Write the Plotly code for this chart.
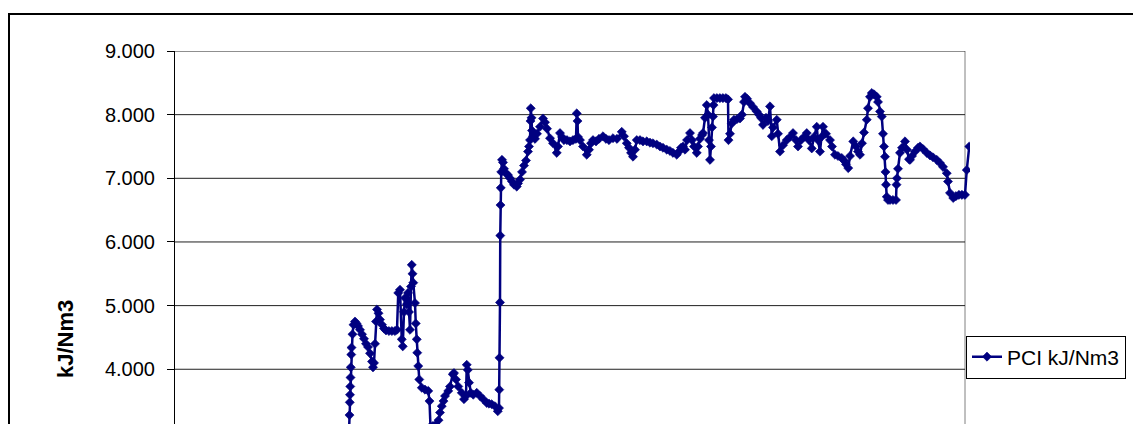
import plotly.graph_objects as go

# sample number (x) and PCI value in kJ/Nm3
muestra = [694, 698, 699, 700, 701, 702, 703, 705, 706, 710, 714, 720, 726, 732, 740, 748, 756, 764, 772, 780,
           788, 792, 796, 800, 804, 808, 814, 820, 828, 836, 844, 856, 868, 880, 888, 893, 900, 907, 911, 916,
           920, 927, 932, 936, 940, 944, 947, 950, 953, 960, 963, 967, 969, 973, 977, 987, 1000, 1013, 1018, 1022,
           1032, 1044, 1054, 1060, 1067, 1074, 1080, 1093, 1100, 1111, 1116, 1124, 1133, 1147, 1156, 1164, 1167, 1171, 1176, 1183,
           1193, 1207, 1220, 1233, 1247, 1256, 1267, 1280, 1291, 1296, 1297, 1298, 1300, 1301, 1302, 1303, 1305, 1308, 1312, 1316,
           1324, 1332, 1340, 1348, 1356, 1367, 1372, 1380, 1388, 1396, 1404, 1412, 1416, 1420, 1422, 1423, 1426, 1428, 1432, 1440,
           1448, 1460, 1472, 1480, 1488, 1500, 1512, 1527, 1532, 1540, 1548, 1556, 1568, 1580, 1592, 1604, 1607, 1610, 1612, 1620,
           1632, 1647, 1656, 1664, 1672, 1684, 1696, 1712, 1724, 1736, 1752, 1768, 1787, 1796, 1807, 1816, 1824, 1832, 1840, 1847,
           1860, 1872, 1887, 1900, 1912, 1927, 1940, 1952, 1967, 1980, 1992, 2007, 2016, 2024, 2032, 2040, 2048, 2060, 2068, 2076,
           2087, 2092, 2100, 2108, 2112, 2120, 2127, 2132, 2136, 2140, 2144, 2148, 2152, 2154, 2156, 2168, 2180, 2192, 2204, 2212,
           2214, 2220, 2227, 2236, 2248, 2260, 2268, 2276, 2280, 2288, 2300, 2312, 2327, 2336, 2344, 2352, 2364, 2372, 2380, 2387,
           2392, 2407, 2412, 2420, 2432, 2447, 2460, 2472, 2484, 2492, 2504, 2516, 2527, 2536, 2547, 2556, 2567, 2572, 2580, 2586,
           2592, 2604, 2620, 2628, 2640, 2652, 2667, 2676, 2684, 2693, 2700, 2713, 2724, 2732, 2740, 2748, 2756, 2767, 2772, 2780,
           2787, 2796, 2807, 2812, 2820, 2827, 2832, 2836, 2840, 2842, 2844, 2847, 2852, 2860, 2872, 2884, 2886, 2888, 2892, 2900,
           2908, 2920, 2928, 2936, 2940, 2948, 2960, 2972, 2980, 2992, 3007, 3020, 3032, 3047, 3060, 3072, 3087, 3092, 3100, 3113,
           3124, 3136, 3148, 3160, 3167, 3177]

pci = [2800, 3280, 3480, 3600, 3730, 3870, 4030, 4230, 4340, 4550, 4700, 4750, 4720, 4680, 4620, 4550, 4480, 4400, 4350, 4250,
       4120, 4030, 4100, 4400, 4750, 4940, 4880, 4780, 4700, 4640, 4610, 4600, 4600, 4600, 4620, 5200, 5250, 4470, 4360, 4900,
       5120, 5020, 5200, 4900, 4620, 5300, 5640, 5500, 5360, 5040, 4720, 4470, 4260, 4050, 3840, 3710, 3680, 3660, 3500, 3100,
       3110, 3130, 3200, 3320, 3420, 3500, 3580, 3660, 3730, 3920, 3940, 3840, 3730, 3630, 3530, 3580, 4070, 3990, 3790, 3630,
       3600, 3630, 3580, 3530, 3470, 3460, 3450, 3420, 3340, 3390, 3680, 4180, 5050, 6100, 6580, 6850, 7100, 7290, 7250, 7150,
       7080, 7050, 7000, 6950, 6900, 6870, 6920, 6980, 7100, 7200, 7280, 7420, 7500, 7600, 7900, 8100, 7950, 7750, 7660, 7620,
       7700, 7810, 7940, 7880, 7780, 7630, 7550, 7400, 7500, 7710, 7650, 7600, 7600, 7580, 7600, 7620, 8020, 7900, 7650, 7600,
       7500, 7370, 7450, 7550, 7600, 7580, 7620, 7660, 7620, 7600, 7630, 7620, 7730, 7660, 7550, 7480, 7400, 7340, 7450, 7600,
       7600, 7580, 7580, 7560, 7550, 7530, 7500, 7480, 7450, 7430, 7400, 7370, 7420, 7480, 7500, 7450, 7600, 7710, 7600, 7500,
       7400, 7500, 7620, 7680, 7710, 7950, 8150, 8000, 7600, 7290, 7500, 7800, 7970, 8150, 8260, 8260, 8260, 8260, 8260, 8240,
       7600, 7700, 7860, 7920, 7930, 7940, 8000, 8200, 8280, 8250, 8180, 8120, 8050, 8000, 7950, 7840, 7950, 7900, 8130, 7660,
       7800, 7920, 7700, 7420, 7520, 7600, 7650, 7710, 7600, 7500, 7600, 7650, 7710, 7600, 7470, 7650, 7810, 7600, 7420, 7650,
       7810, 7700, 7600, 7500, 7370, 7350, 7320, 7280, 7220, 7160, 7350, 7580, 7500, 7420, 7370, 7550, 7720, 7920, 8100, 8280,
       8340, 8320, 8280, 8200, 8050, 7970, 7700, 7500, 7340, 7100, 6900, 6710, 6660, 6660, 6660, 6660, 6900, 7000, 7150, 7400,
       7480, 7580, 7450, 7300, 7290, 7350, 7420, 7480, 7500, 7460, 7400, 7360, 7330, 7290, 7240, 7180, 7080, 6950, 6770, 6690,
       6720, 6740, 6740, 6740, 7130, 7500]

serie = "PCI kJ/Nm3"
titulo_y = "kJ/Nm3"
y_ticks = [4000, 5000, 6000, 7000, 8000, 9000]
y_min, y_max = 3140, 9000
x_min, x_axis_end, x_max = 0, 3160, 3180

# the page body adds an 8px margin on the top and left
OFF = 8
W, H = 1141 - OFF, 424 - OFF
L, R, T, B = 167, 171, 43, 0
pw = W - L - R
ph = H - T - B


def px(xp):
    return (xp - OFF - L) / pw


def py(yp):
    return (H - B - (yp - OFF)) / ph


FONT = "Liberation Sans, Arial, sans-serif"
NAVY = "#000080"

fig = go.Figure()
fig.add_trace(go.Scatter(
    x=muestra, y=pci, mode="lines+markers", name=serie,
    line=dict(color=NAVY, width=2.5),
    marker=dict(symbol="diamond", size=7, color=NAVY, line=dict(width=0.6, color=NAVY)),
    cliponaxis=True,
))

shapes = [
    dict(type="line", xref="x", yref="y", x0=x_min, x1=x_axis_end, y0=v, y1=v,
         line=dict(color="#202020", width=1), layer="below")
    for v in y_ticks
]
shapes.append(dict(type="line", xref="x", yref="paper", x0=x_axis_end, x1=x_axis_end, y0=0, y1=1,
                   line=dict(color="#808080", width=1), layer="below"))
shapes.append(dict(type="rect", xref="paper", yref="paper",
                   x0=px(9), x1=px(1160), y0=py(440), y1=py(14),
                   line=dict(color="black", width=2), fillcolor="rgba(0,0,0,0)"))

fig.update_layout(
    width=W, height=H,
    margin=dict(l=L, r=R, t=T, b=B, autoexpand=False),
    paper_bgcolor="white", plot_bgcolor="white",
    separators=",.",
    font=dict(family=FONT, size=20, color="black"),
    showlegend=True,
    legend=dict(
        x=px(966), xanchor="left", y=py(357), yanchor="middle",
        bordercolor="black", borderwidth=1, bgcolor="white",
        font=dict(family=FONT, size=21, color="black"),
        itemwidth=30, tracegroupgap=0,
    ),
    xaxis=dict(range=[x_min, x_max], visible=False),
    yaxis=dict(
        range=[y_min, y_max], tickvals=y_ticks, tickformat=",d",
        showgrid=False,
        zeroline=False, showline=True, linecolor="black", linewidth=1,
        ticks="outside", ticklen=7, tickcolor="black", tickwidth=1,
        ticklabelstandoff=8,
        tickfont=dict(family=FONT, size=20, color="black"),
    ),
    shapes=shapes,
    annotations=[
        dict(text="<b>" + titulo_y + "</b>", xref="paper", yref="paper",
             x=px(65), y=py(339), textangle=-90, showarrow=False,
             xanchor="center", yanchor="middle",
             font=dict(family=FONT, size=22, color="black")),
    ],
)

fig.write_html("out.html")
